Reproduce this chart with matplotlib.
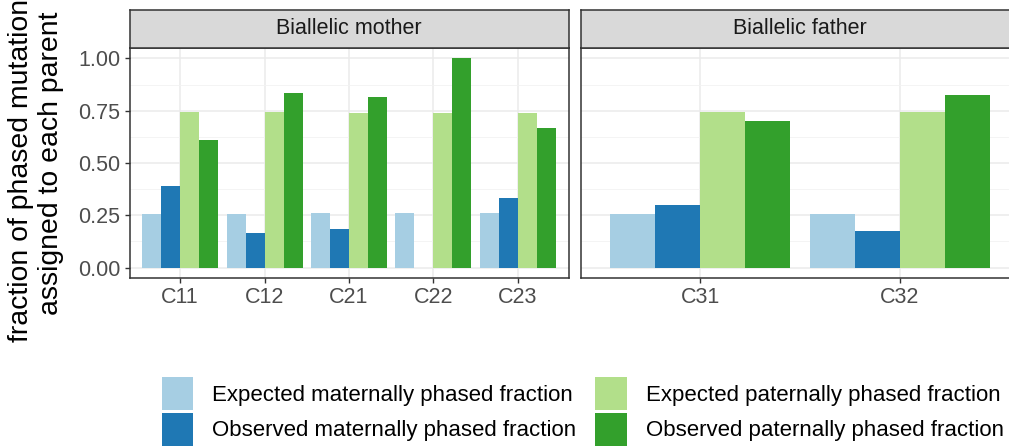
import matplotlib.pyplot as plt
import numpy as np
from matplotlib.patches import Patch

plt.rcParams['font.family'] = ['Liberation Sans', 'DejaVu Sans']

# fraction of phased mutations assigned to each parent, per sample
mother_samples = ["C11", "C12", "C21", "C22", "C23"]
father_samples = ["C31", "C32"]

mother_exp_mat = [0.255, 0.255, 0.26, 0.26, 0.26]
mother_obs_mat = [0.389, 0.167, 0.182, 0.0, 0.333]
mother_exp_pat = [0.745, 0.745, 0.74, 0.74, 0.74]
mother_obs_pat = [0.611, 0.833, 0.818, 1.0, 0.667]

father_exp_mat = [0.255, 0.255]
father_obs_mat = [0.30, 0.174]
father_exp_pat = [0.745, 0.745]
father_obs_pat = [0.70, 0.826]

series_labels = ["Expected maternally phased fraction",
                 "Observed maternally phased fraction",
                 "Expected paternally phased fraction",
                 "Observed paternally phased fraction"]
colors = ["#A6CEE3", "#1F78B4", "#B2DF8A", "#33A02C"]
yticks = [0.0, 0.25, 0.5, 0.75, 1.0]

W, H = 1009, 446
fig = plt.figure(figsize=(W / 100, H / 100), dpi=100)


def px_axes(x0, y0, x1, y1):
    # axes from pixel box measured from the top-left corner
    return fig.add_axes([x0 / W, 1 - y1 / H, (x1 - x0) / W, (y1 - y0) / H])


def draw_panel(ax, samples, series, title, strip_box, show_y):
    n = len(samples)
    x = np.arange(n)
    width = 0.225
    for j, vals in enumerate(series):
        ax.bar(x + (j - 1.5) * width, vals, width, color=colors[j], zorder=3)
    ax.set_xlim(-0.6, n - 0.4)
    ax.set_ylim(-0.05, 1.05)
    ax.set_xticks(x)
    ax.set_xticklabels(samples)
    ax.set_yticks(yticks)
    ax.set_yticks([0.125, 0.375, 0.625, 0.875], minor=True)
    ax.set_yticklabels([f"{v:.2f}" for v in yticks])
    ax.grid(which='major', color='#EBEBEB', linewidth=1.1, zorder=0)
    ax.grid(which='minor', axis='y', color='#F2F2F2', linewidth=0.6, zorder=0)
    ax.tick_params(axis='both', which='major', length=3.5, width=1, color='#333333',
                   labelcolor='#4D4D4D', labelsize=15.5, pad=3)
    ax.tick_params(which='minor', length=0)
    if not show_y:
        ax.tick_params(axis='y', left=False, labelleft=False)
    for s in ax.spines.values():
        s.set_color('#333333')
        s.set_linewidth(1.1)

    # facet strip on top of the panel
    sax = px_axes(*strip_box)
    sax.set_facecolor('#D9D9D9')
    sax.set_xticks([])
    sax.set_yticks([])
    for s in sax.spines.values():
        s.set_color('#333333')
        s.set_linewidth(1.1)
    sax.text(0.5, 0.5, title, ha='center', va='center', fontsize=15.5,
             color='#1A1A1A', transform=sax.transAxes)


ax_m = px_axes(129.5, 48, 568.5, 278)
draw_panel(ax_m, mother_samples,
           [mother_exp_mat, mother_obs_mat, mother_exp_pat, mother_obs_pat],
           "Biallelic mother", (129.5, 10, 568.5, 48), True)

ax_f = px_axes(580.5, 48, 1019.5, 278)
draw_panel(ax_f, father_samples,
           [father_exp_mat, father_obs_mat, father_exp_pat, father_obs_pat],
           "Biallelic father", (580.5, 10, 1019.5, 48), False)

fig.text(36 / W, 1 - 163 / H, "fraction of phased mutations\nassigned to each parent",
         rotation=90, ha='center', va='center', multialignment='center',
         fontsize=20.4, color='black', linespacing=1.2)

handles = [Patch(facecolor=c, edgecolor='none') for c in colors]
fig.legend(handles, series_labels, ncol=2, loc='upper left',
           bbox_to_anchor=(162 / W, 1 - 377 / H), frameon=False,
           fontsize=16, handlelength=1.40, handleheight=1.91,
           handletextpad=0.86, columnspacing=0.86, labelspacing=0.12,
           borderpad=0, borderaxespad=0)

fig.savefig("out.png", dpi=100)
